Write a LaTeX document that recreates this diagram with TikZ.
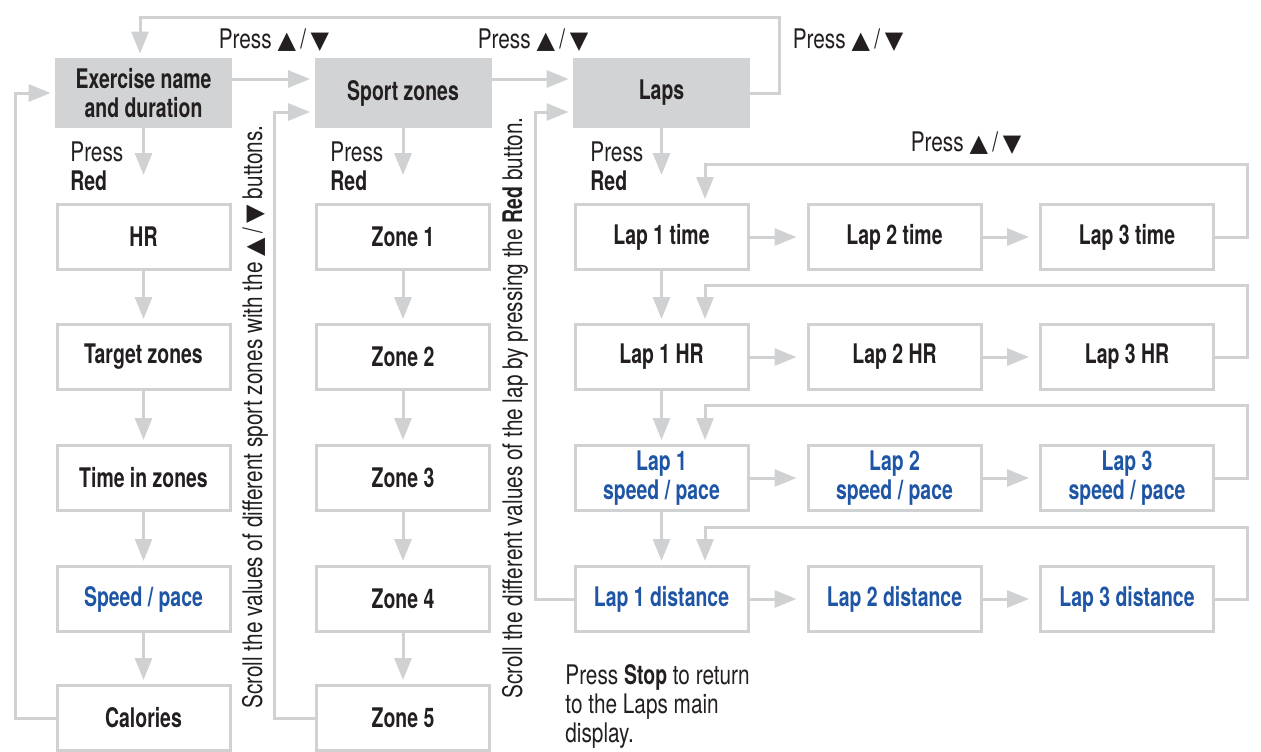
\documentclass[tikz,border=0pt]{standalone}
\usepackage{fontspec}
\setmainfont{TeX Gyre Heros}[UprightFeatures={FakeStretch=0.77},BoldFeatures={FakeStretch=0.72}]
\newfontfamily\trifont{DejaVu Sans}
\usepackage{tikz}
\usetikzlibrary{arrows.meta,positioning}
\definecolor{linegray}{HTML}{D0D1D3}
\definecolor{hdrgray}{HTML}{D1D3D4}
\definecolor{inkblack}{HTML}{231F20}
\definecolor{polarblue}{HTML}{1E55A5}
\newcommand{\diagfont}{\fontsize{13.5}{14.5}\selectfont}
\newcommand{\tri}[1]{{\trifont\fontsize{12}{12}\selectfont #1}}
\newcommand{\updn}{\tri{▲}\,/\,\tri{▼}}
\tikzset{
  % boxes
  hdr/.style={fill=hdrgray,inner sep=0pt,minimum width=88.5pt,minimum height=35pt,
              font=\diagfont\bfseries,text=inkblack,align=center},
  box/.style={draw=linegray,fill=white,line width=1.5pt,inner sep=0pt,
              minimum width=86.5pt,minimum height=32.5pt,
              font=\diagfont\bfseries,text=inkblack,align=center},
  bluebox/.style={box,text=polarblue},
  note/.style={font=\diagfont,text=inkblack,inner sep=0pt},
  % connectors
  arr/.style={draw=linegray,line width=1.5pt,-{Triangle[length=11pt,width=8.5pt]},
              shorten >=2pt},
}
\begin{document}
\begin{tikzpicture}[x=0.5pt,y=-0.5pt]
\useasboundingbox (0,0) rectangle (1261,751);
  \node[hdr] (ex) at (143.5,93) {Exercise name\\and duration};
  \node[hdr] (sz) at (403,93) {Sport zones};
  \node[hdr] (laps) at (661.5,93) {Laps};
  % exercise
  \node[box] (hr) at (143.5,237) {HR};
  \node[box] (tgt) at (143.5,357) {Target zones};
  \node[box] (tiz) at (143.5,478) {Time in zones};
  \node[bluebox] (spd) at (143.5,599) {Speed / pace};
  \node[box] (cal) at (143.5,718) {Calories};
  % zones
  \node[box] (z1) at (403,237) {Zone 1};
  \node[box] (z2) at (403,357) {Zone 2};
  \node[box] (z3) at (403,478) {Zone 3};
  \node[box] (z4) at (403,599) {Zone 4};
  \node[box] (z5) at (403,718) {Zone 5};
  % laps
  \node[box] (lt1) at (661.5,237) {Lap 1 time};
  \node[box] (lt2) at (894.5,237) {Lap 2 time};
  \node[box] (lt3) at (1127,237) {Lap 3 time};
  \node[box] (lh1) at (661.5,357) {Lap 1 HR};
  \node[box] (lh2) at (894.5,357) {Lap 2 HR};
  \node[box] (lh3) at (1127,357) {Lap 3 HR};
  \node[bluebox] (ls1) at (661.5,478) {Lap 1\\speed / pace};
  \node[bluebox] (ls2) at (894.5,478) {Lap 2\\speed / pace};
  \node[bluebox] (ls3) at (1127,478) {Lap 3\\speed / pace};
  \node[bluebox] (ld1) at (661.5,599) {Lap 1 distance};
  \node[bluebox] (ld2) at (894.5,599) {Lap 2 distance};
  \node[bluebox] (ld3) at (1127,599) {Lap 3 distance};
  % texts
  \node[note] (pr1) at (274,40) {Press \updn};
  \node[note] (pr2) at (533,40) {Press \updn};
  \node[note] (pr3) at (848,40) {Press \updn};
  \node[note] (pr4) at (966,143) {Press \updn};
  \node[note,align=left,anchor=north west] (red1) at (70,141) {Press\\\textbf{Red}};
  \node[note,align=left,anchor=north west] (red2) at (330,141) {Press\\\textbf{Red}};
  \node[note,align=left,anchor=north west] (red3) at (590,141) {Press\\\textbf{Red}};
  \node[note,rotate=90] (scrz) at (255,417)
    {Scroll the values of different sport zones with the \updn{} buttons.};
  \node[note,rotate=90] (scrl) at (515,408)
    {Scroll the different values of the lap by pressing the \textbf{Red} button.};
  \node[note,align=left,anchor=north west] (stop) at (565,664)
    {Press \textbf{Stop} to return\\to the Laps main\\display.};
  % header row
  \draw[arr] ([yshift=7pt]ex.east) -- ([yshift=7pt]sz.west);
  \draw[arr] ([yshift=7pt]sz.east) -- ([yshift=7pt]laps.west);
  \draw[arr] (laps.east) -- ++(29,0) -- ++(0,-76) -| ([xshift=-1.75pt]ex.north);
  \draw[arr] (cal.west) -- ++(-40,0) |- (ex.west);
  \draw[arr] (z5.west) -- ++(-41,0) |- ([yshift=-9.5pt]sz.west);
  \draw[arr] (ld1.west) -- ++(-38,0) |- ([yshift=-9.5pt]laps.west);
  \draw[arr,shorten >=14pt] (ex) -- (hr);
  \draw[arr,shorten >=14pt] (sz) -- (z1);
  \draw[arr,shorten >=14pt] (laps) -- (lt1);
  % columns
  \draw[arr] (hr) -- (tgt);
  \draw[arr] (tgt) -- (tiz);
  \draw[arr] (tiz) -- (spd);
  \draw[arr] (spd) -- (cal);
  \draw[arr] (z1) -- (z2);
  \draw[arr] (z2) -- (z3);
  \draw[arr] (z3) -- (z4);
  \draw[arr] (z4) -- (z5);
  \draw[arr] (lt1) -- (lh1);
  \draw[arr] (lh1) -- (ls1);
  \draw[arr] (ls1) -- (ld1);
  % lap rows
  \draw[arr,shorten >=5pt] (lt1) -- (lt2);
  \draw[arr,shorten >=5pt] (lt2) -- (lt3);
  \draw[arr,shorten >=5pt] (lh1) -- (lh2);
  \draw[arr,shorten >=5pt] (lh2) -- (lh3);
  \draw[arr,shorten >=5pt] (ls1) -- (ls2);
  \draw[arr,shorten >=5pt] (ls2) -- (ls3);
  \draw[arr,shorten >=5pt] (ld1) -- (ld2);
  \draw[arr,shorten >=5pt] (ld2) -- (ld3);
  \draw[arr] (lt3.east) -- ++(32,0) -- ++(0,-73) -| ([xshift=21.75pt]lt1.north);
  \draw[arr] (lh3.east) -- ++(32,0) -- ++(0,-72) -| ([xshift=21.75pt]lh1.north);
  \draw[arr] (ls3.east) -- ++(32,0) -- ++(0,-73) -| ([xshift=21.75pt]ls1.north);
  \draw[arr] (ld3.east) -- ++(32,0) -- ++(0,-72) -| ([xshift=21.75pt]ld1.north);
\end{tikzpicture}
\end{document}
